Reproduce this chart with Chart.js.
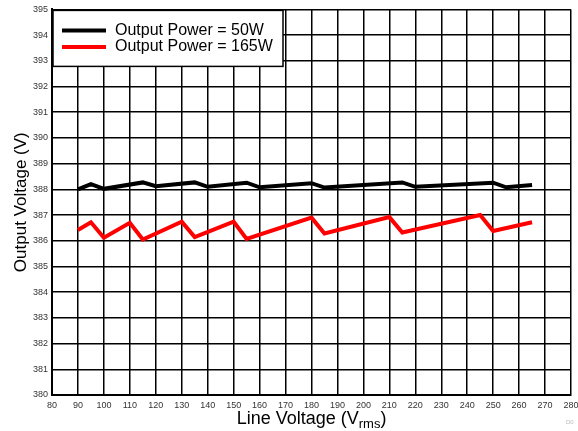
<!DOCTYPE html>
<html>
<head>
<meta charset="utf-8">
<script src="https://cdn.jsdelivr.net/npm/chart.js@4"></script>
<style>
  html, body { margin: 0; padding: 0; background: #fff; }
  #wrap { width: 578px; height: 431px; position: relative; }
</style>
</head>
<body>
<div id="wrap"><canvas id="chart"></canvas></div>
<script>
// Line voltage (Vrms) vertices and output voltage (V)
const lineV50 = [90, 95, 100, 115, 120, 135, 140, 155, 160, 180, 185, 215, 220, 250, 255, 265];
const outV50 = [388.0, 388.2, 388.02, 388.27, 388.12, 388.27, 388.1, 388.26, 388.08, 388.24, 388.07, 388.27, 388.1, 388.26, 388.08, 388.17];

const lineV165 = [90, 95, 100, 110, 115, 130, 135, 150, 155, 180, 185, 210, 215, 245, 250, 265];
const outV165 = [386.42, 386.72, 386.12, 386.7, 386.05, 386.74, 386.14, 386.74, 386.07, 386.9, 386.28, 386.92, 386.32, 387.0, 386.38, 386.72];

const xTicks = [80, 90, 100, 110, 120, 130, 140, 150, 160, 170, 180, 190, 200, 210, 220, 230, 240, 250, 260, 270, 280];
const yTicks = [380, 381, 382, 383, 384, 385, 386, 387, 388, 389, 390, 391, 392, 393, 394, 395];

const seriesLabels = ['Output Power = 50W', 'Output Power = 165W'];
const seriesColors = ['#000000', '#ff0000'];

const FONT = '"Liberation Sans", Arial, sans-serif';

const toPoints = (xs, ys) => xs.map((x, i) => ({ x: x, y: ys[i] }));

// axis titles + legend box drawn by hand (subscript in the x title)
const decor = {
  id: 'decor',
  afterDraw(chart) {
    const ctx = chart.ctx;
    const a = chart.chartArea;
    ctx.save();
    ctx.fillStyle = '#000';

    // x title with subscript
    const big = '18px ' + FONT, small = '13px ' + FONT;
    const p1 = 'Line Voltage (V', p2 = 'rms', p3 = ')';
    ctx.font = big; const w1 = ctx.measureText(p1).width, w3 = ctx.measureText(p3).width;
    ctx.font = small; const w2 = ctx.measureText(p2).width;
    let x = (a.left + a.right) / 2 - (w1 + w2 + w3) / 2;
    const base = 424;
    ctx.textBaseline = 'alphabetic';
    ctx.textAlign = 'left';
    ctx.font = big; ctx.fillText(p1, x, base); x += w1;
    ctx.font = small; ctx.fillText(p2, x, base + 4); x += w2;
    ctx.font = big; ctx.fillText(p3, x, base);

    // y title
    ctx.save();
    ctx.translate(26, (a.top + a.bottom) / 2);
    ctx.rotate(-Math.PI / 2);
    ctx.textAlign = 'center';
    ctx.font = '17px ' + FONT;
    ctx.fillText('Output Voltage (V)', 0, 0);
    ctx.restore();

    // small figure id
    ctx.fillStyle = '#bbb';
    ctx.font = '6px ' + FONT;
    ctx.textAlign = 'left';
    ctx.fillText('D0', 566, 424);

    // legend
    const lx = a.left + 1, ly = a.top + 1, lw = 230, lh = 56;
    ctx.fillStyle = '#fff';
    ctx.fillRect(lx, ly, lw, lh);
    ctx.strokeStyle = '#000';
    ctx.lineWidth = 1.5;
    ctx.strokeRect(lx, ly, lw, lh);
    ctx.font = '16px ' + FONT;
    ctx.textBaseline = 'middle';
    seriesLabels.forEach((lab, i) => {
      const yy = ly + 20 + i * 16.5;
      ctx.strokeStyle = seriesColors[i];
      ctx.lineWidth = 4;
      ctx.beginPath();
      ctx.moveTo(lx + 9, yy);
      ctx.lineTo(lx + 53, yy);
      ctx.stroke();
      ctx.fillStyle = '#000';
      ctx.fillText(lab, lx + 62, yy);
    });
    ctx.restore();
  }
};

new Chart(document.getElementById('chart'), {
  type: 'line',
  data: {
    datasets: [
      {
        label: seriesLabels[0],
        data: toPoints(lineV50, outV50),
        borderColor: seriesColors[0],
        borderWidth: 4,
        pointRadius: 0,
        tension: 0
      },
      {
        label: seriesLabels[1],
        data: toPoints(lineV165, outV165),
        borderColor: seriesColors[1],
        borderWidth: 4,
        pointRadius: 0,
        tension: 0
      }
    ]
  },
  options: {
    responsive: true,
    maintainAspectRatio: false,
    animation: false,
    layout: { padding: { top: 9, right: 7, left: 0, bottom: 0 } },
    plugins: {
      legend: { display: false },
      tooltip: { enabled: false }
    },
    scales: {
      x: {
        type: 'linear',
        min: xTicks[0],
        max: xTicks[xTicks.length - 1],
        afterBuildTicks: s => { s.ticks = xTicks.map(v => ({ value: v })); },
        afterFit: s => { s.height = 36; s.paddingRight = 0; s.paddingLeft = 0; },
        grid: { color: '#000', lineWidth: 1.5, drawTicks: false },
        border: { color: '#000', width: 2 },
        ticks: { color: '#333', font: { family: FONT, size: 9 }, padding: 5, maxRotation: 0, autoSkip: false }
      },
      y: {
        min: yTicks[0],
        max: yTicks[yTicks.length - 1],
        afterBuildTicks: s => { s.ticks = yTicks.map(v => ({ value: v })); },
        afterFit: s => { s.width = 52; },
        grid: { color: '#000', lineWidth: 1.5, drawTicks: false },
        border: { color: '#000', width: 2 },
        ticks: { color: '#333', font: { family: FONT, size: 9 }, padding: 4, autoSkip: false }
      }
    }
  },
  plugins: [decor]
});
</script>
</body>
</html>
